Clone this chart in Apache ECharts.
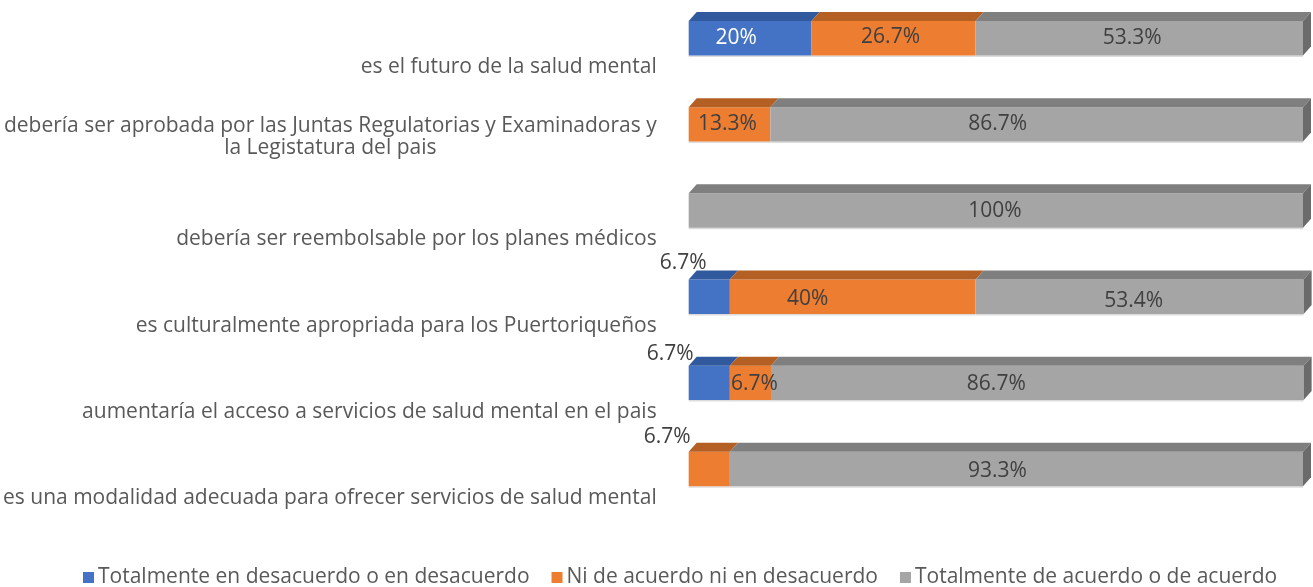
<!DOCTYPE html>
<html>
<head>
<meta charset="utf-8">
<script src="https://cdn.jsdelivr.net/npm/echarts@6/dist/echarts.min.js"></script>
<style>
  html, body { margin: 0; padding: 0; background: #fff; }
  #main { width: 1313px; height: 587px; }
</style>
</head>
<body>
<div id="main"></div>
<script>
// categorias (de arriba hacia abajo)
const categories = [
    'es el futuro de la salud mental',
    'debería ser aprobada por las Juntas Regulatorias y Examinadoras y\nla Legistatura del pais',
    'debería ser reembolsable por los planes médicos',
    'es culturalmente apropriada para los Puertoriqueños',
    'aumentaría el acceso a servicios de salud mental en el pais',
    'es una modalidad adecuada para ofrecer servicios de salud mental'
]
const seriesNames = [
    'Totalmente en desacuerdo o en desacuerdo',
    'Ni de acuerdo ni en desacuerdo',
    'Totalmente de acuerdo o de acuerdo'
]
const desacuerdo = [20, 0, 0, 6.7, 6.7, 0]
const neutral = [26.7, 13.3, 0, 40, 6.7, 6.7]
const deAcuerdo = [53.3, 86.7, 100, 53.4, 86.7, 93.3]

// colores: frente, cara superior, cara lateral
const palette = [
    { front: '#4472c4', top: '#315a9e', side: '#2a4d87' },
    { front: '#ed7d31', top: '#b45f24', side: '#9a511f' },
    { front: '#a5a5a5', top: '#7f7f7f', side: '#6b6b6b' }
]
// ajuste manual de etiquetas (como en el original) [dx, dy]
const labelNudge = {
    '0-0': [-14, 0], '1-0': [-3, -1], '2-0': [-7, 0],
    '1-1': [-2, 0], '2-1': [-39, 0],
    '2-2': [-1, 0],
    '0-3': [-26, -34], '1-3': [-45, 2], '2-3': [-6, 4],
    '0-4': [-39, -29], '1-4': [4, 1], '2-4': [-41, 1],
    '1-5': [-42, -32], '2-5': [-19, 2]
}
const outside = { '0-3': 1, '0-4': 1, '1-5': 1 }
const FAMILY = 'Open Sans'
const SIZE = 21
const FONT = SIZE + 'px "' + FAMILY + '", sans-serif'

const values = [desacuerdo, neutral, deAcuerdo]

const makeData = (s) => values[s].map((v, i) => {
    let start = 0
    for (let k = 0; k < s; k++) start += values[k][i]
    return [i, start, start + v, v]
})

const renderItem = (s) => (params, api) => {
    const v = api.value(3)
    if (!v) return null
    const cat = api.value(0)
    const p0 = api.coord([api.value(1), cat])
    const p1 = api.coord([api.value(2), cat])
    const band = api.size([0, 1])[1]
    const h = band * 0.4
    const yc = p0[1] - band * 0.335
    const top = yc - h / 2
    const bottom = yc + h / 2
    const dx = 8, dy = 9
    const c = palette[s]
    const children = [
        { type: 'rect', shape: { x: p0[0], y: bottom, width: p1[0] - p0[0], height: 1.5 }, style: { fill: '#dcdcdc' } },
        { type: 'rect', shape: { x: p0[0], y: top, width: p1[0] - p0[0], height: h }, style: { fill: c.front } },
        { type: 'polygon', shape: { points: [[p0[0], top], [p0[0] + dx, top - dy], [p1[0] + dx, top - dy], [p1[0], top]] }, style: { fill: c.top } }
    ]
    if (api.value(2) >= 99.9) {
        children.push({ type: 'polygon', shape: { points: [[p1[0], top], [p1[0] + dx, top - dy], [p1[0] + dx, bottom - dy], [p1[0], bottom]] }, style: { fill: c.side } })
    }
    const key = s + '-' + cat
    const nudge = labelNudge[key] || [0, 0]
    children.push({
        type: 'text',
        z2: 10,
        style: {
            text: v + '%',
            x: (p0[0] + p1[0]) / 2 + nudge[0],
            y: yc + nudge[1],
            align: 'center',
            verticalAlign: 'middle',
            font: FONT,
            fill: (s === 0 && !outside[key]) ? '#ffffff' : '#404040'
        }
    })
    return { type: 'group', children: children }
}

const myChart = echarts.init(document.getElementById('main'))
const option = {
    animation: false,
    grid: { left: 688, right: 10, top: 24, bottom: 46 },
    xAxis: { type: 'value', min: 0, max: 100, show: false },
    yAxis: {
        type: 'category',
        inverse: true,
        data: categories,
        axisLine: { show: false },
        axisTick: { show: false },
        splitLine: { show: false },
        axisLabel: {
            margin: 32,
            color: '#595959',
            fontFamily: FAMILY,
            fontSize: SIZE,
            formatter: (val, idx) => {
                if (val.indexOf('\n') < 0) return val
                const lines = val.split('\n')
                return '{c|' + lines[0] + '}\n{c|' + lines[1] + '}\n{sp|}'
            },
            rich: {
                c: { align: 'center', lineHeight: 22, fontSize: SIZE, fontFamily: FAMILY, color: '#595959' },
                sp: { lineHeight: 32, height: 32 }
            }
        }
    },
    legend: {
        left: 78,
        top: 562,
        icon: 'rect',
        itemWidth: 11,
        itemHeight: 11,
        itemGap: 22,
        textStyle: { color: '#595959', fontFamily: FAMILY, fontSize: SIZE, padding: [0, 0, 0, -1] },
        data: [
            seriesNames[0],
            { name: seriesNames[1], textStyle: { padding: [0, 28, 0, -1] } },
            seriesNames[2]
        ]
    },
    series: seriesNames.map((name, s) => ({
        type: 'custom',
        name: name,
        color: palette[s].front,
        itemStyle: { color: palette[s].front },
        renderItem: renderItem(s),
        encode: { x: [1, 2], y: 0 },
        data: makeData(s)
    }))
}
myChart.setOption(option)
window.addEventListener('resize', () => { myChart.resize() })
</script>
</body>
</html>
